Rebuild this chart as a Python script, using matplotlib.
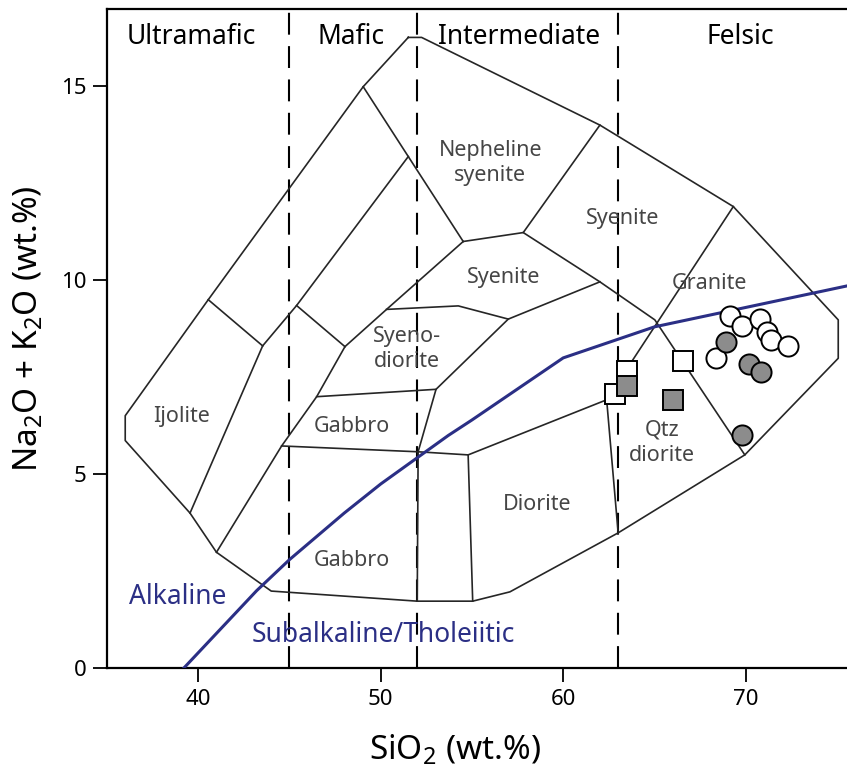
import matplotlib
matplotlib.use("Agg")
import matplotlib.pyplot as plt

plt.rcParams['font.family'] = ['Noto Sans', 'DejaVu Sans']
plt.rcParams['mathtext.fontset'] = 'custom'
plt.rcParams['mathtext.rm'] = 'Noto Sans'

# SiO2 limits of the rock groups (dashed lines) and their names
group_bounds = [45, 52, 63]
group_names = ['Ultramafic', 'Mafic', 'Intermediate', 'Felsic']
group_x = [39.6, 48.4, 57.6, 69.7]

# outer outline of the plutonic TAS diagram (SiO2, Na2O+K2O)
outline = [(51.51, 16.26), (52.24, 16.26), (62.01, 14.0), (69.32, 11.9),
           (75.07, 8.98), (75.07, 7.99), (69.95, 5.5), (63.01, 3.49),
           (57.08, 1.97), (55.04, 1.73), (52.0, 1.73), (44.0, 1.99),
           (41.0, 2.99), (39.55, 4.0), (36.0, 5.87), (36.0, 6.51),
           (40.55, 9.5), (49.04, 14.99), (51.51, 16.26)]

# field boundaries inside the outline
inner_lines = [
    [(40.55, 9.5), (43.53, 8.31)],
    [(43.53, 8.31), (39.55, 4.0)],
    [(43.53, 8.31), (45.39, 9.35), (51.51, 13.19)],
    [(49.04, 14.99), (51.51, 13.19), (54.52, 11.0)],
    [(45.39, 9.35), (48.04, 8.29)],
    [(54.52, 11.0), (57.81, 11.23), (62.01, 14.0)],
    [(48.04, 8.29), (50.32, 9.25), (54.52, 11.0)],
    [(48.04, 8.29), (46.49, 7.0), (44.57, 5.73), (41.0, 2.99)],
    [(50.32, 9.25), (54.25, 9.34), (56.99, 9.0), (62.01, 9.96)],
    [(56.99, 9.0), (53.03, 7.19), (52.05, 5.58)],
    [(46.49, 7.0), (53.03, 7.19)],
    [(44.57, 5.73), (52.05, 5.58), (54.79, 5.5), (62.38, 6.92)],
    [(52.05, 5.58), (52.0, 1.73)],
    [(54.79, 5.5), (55.04, 1.73)],
    [(62.38, 6.92), (63.01, 3.49)],
    [(62.38, 6.92), (69.32, 11.9)],
    [(57.81, 11.23), (62.01, 9.96), (65.02, 8.98), (69.95, 5.5)],
]

field_names = ['Nepheline\nsyenite', 'Syenite', 'Syenite', 'Granite', 'Syeno-\ndiorite',
               'Ijolite', 'Gabbro', 'Qtz\ndiorite', 'Diorite', 'Gabbro']
field_x = [56.0, 63.26, 56.75, 68.0, 51.43, 39.06, 48.42, 65.4, 58.56, 48.42]
field_y = [13.03, 11.6, 10.08, 9.93, 8.23, 6.48, 6.22, 5.81, 4.21, 2.79]

# alkaline / subalkaline divide (Irvine & Baragar)
alk_sio2 = [39.2, 40.0, 43.2, 45.0, 48.0, 50.0, 53.7, 55.0, 60.0, 65.0, 77.0]
alk_total = [0.0, 0.4, 2.0, 2.8, 4.0, 4.75, 6.0, 6.4, 8.0, 8.8, 10.0]

# samples
open_sq_sio2 = [63.47, 62.83, 66.54]
open_sq_alk = [7.66, 7.06, 7.92]
grey_sq_sio2 = [63.51, 66.03]
grey_sq_alk = [7.28, 6.92]
open_ci_sio2 = [69.13, 69.78, 70.78, 71.15, 71.38, 72.33, 68.35]
open_ci_alk = [9.08, 8.82, 8.99, 8.67, 8.46, 8.31, 8.01]
grey_ci_sio2 = [68.92, 70.17, 70.82, 69.78]
grey_ci_alk = [8.40, 7.85, 7.64, 6.0]

navy = '#2b2f85'
line_c = '#262626'

fig = plt.figure(figsize=(8.47, 7.84), dpi=100)
ax = fig.add_axes([0.1263, 0.1476, 0.8737, 0.8413])

for b in group_bounds:
    ax.plot([b, b], [0, 17], color='black', lw=1.5, dashes=(10.5, 5.5), zorder=1)

ax.plot([p[0] for p in outline], [p[1] for p in outline], color=line_c, lw=1.2, zorder=2)
for seg in inner_lines:
    ax.plot([p[0] for p in seg], [p[1] for p in seg], color=line_c, lw=1.2, zorder=2)

ax.plot(alk_sio2, alk_total, color=navy, lw=2.2, zorder=3)

for name, x in zip(group_names, group_x):
    ax.text(x, 16.27, name, ha='center', va='center', fontsize=19, fontweight='medium', color='black')

for name, x, y in zip(field_names, field_x, field_y):
    ax.text(x, y, name, ha='center', va='center', fontsize=15.5, color='#454545',
            linespacing=1.25, zorder=2)

ax.text(38.9, 1.84, 'Alkaline', ha='center', va='center', fontsize=19, color=navy)
ax.text(50.14, 0.86, 'Subalkaline/Tholeiitic', ha='center', va='center', fontsize=19, color=navy)

mk = dict(linestyle='none', markersize=14.5, markeredgecolor='black', markeredgewidth=1.4)
ax.plot(open_sq_sio2, open_sq_alk, marker='s', markerfacecolor='white', zorder=4, **mk)
ax.plot(grey_sq_sio2, grey_sq_alk, marker='s', markerfacecolor='#8c8c8c', zorder=5, **mk)
ax.plot(open_ci_sio2, open_ci_alk, marker='o', markerfacecolor='white', zorder=4, **mk)
ax.plot(grey_ci_sio2, grey_ci_alk, marker='o', markerfacecolor='#8c8c8c', zorder=5, **mk)

ax.set_xlim(35, 75.55)
ax.set_ylim(0, 17)
ax.set_xticks([40, 50, 60, 70])
ax.set_yticks([0, 5, 10, 15])
ax.tick_params(direction='out', length=10, width=1.3, labelsize=16, pad=5)
ax.spines['right'].set_visible(False)
for s in ['left', 'bottom', 'top']:
    ax.spines[s].set_linewidth(1.6)

ax.set_xlabel('SiO$_2$ (wt.%)', fontsize=24)
ax.xaxis.set_label_coords(0.47, -0.097)
ax.set_ylabel('Na$_2$O + K$_2$O (wt.%)', fontsize=24)
ax.yaxis.set_label_coords(-0.083, 0.515)

fig.savefig('out.png', dpi=100)
